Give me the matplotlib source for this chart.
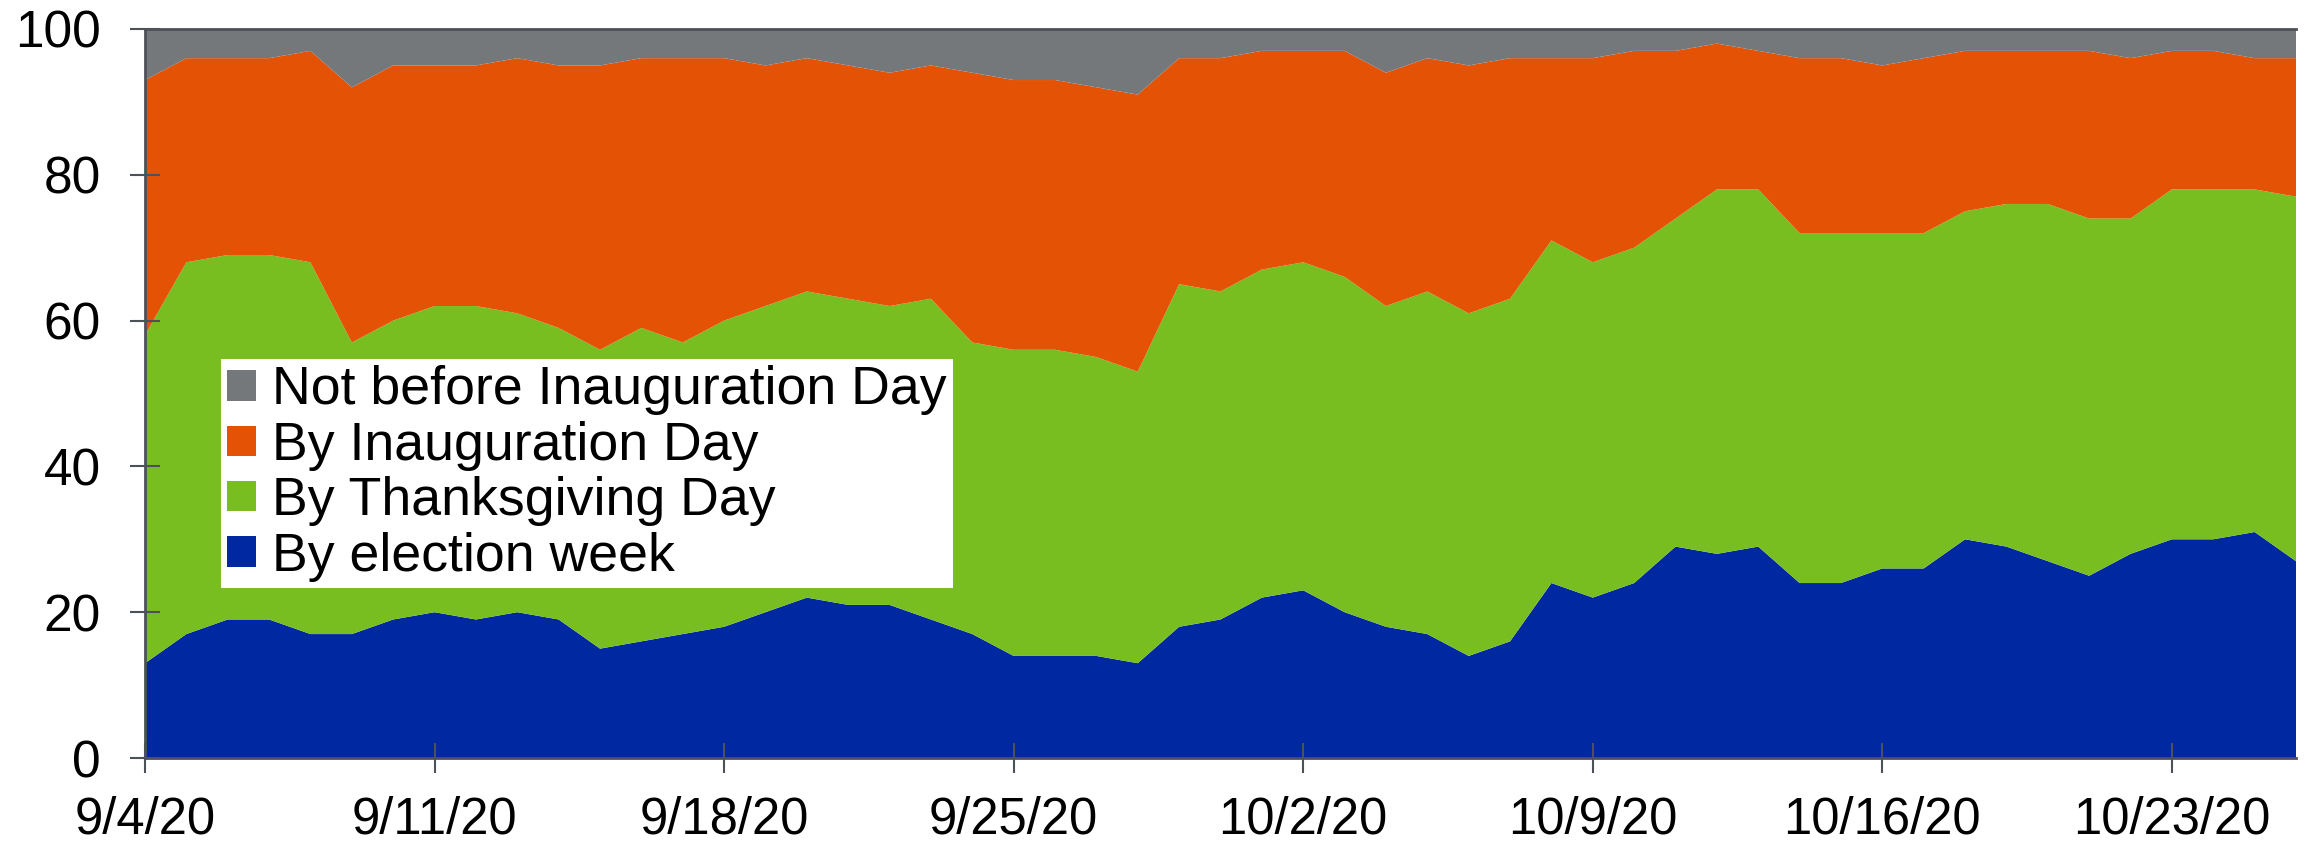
import matplotlib
matplotlib.use("Agg")
import matplotlib.pyplot as plt
import pandas as pd

plt.rcParams['font.family'] = ['Liberation Sans', 'DejaVu Sans']

start_date = "2020-09-04"
n_days = 53
dates = pd.date_range(start_date, periods=n_days, freq="D")

series_labels = ["By election week", "By Thanksgiving Day",
                 "By Inauguration Day", "Not before Inauguration Day"]

by_election_week = [13, 17, 19, 19, 17, 17, 19, 20, 19, 20, 19, 15, 16, 17,
                    18, 20, 22, 21, 21, 19, 17, 14, 14, 14, 13, 18, 19, 22,
                    23, 20, 18, 17, 14, 16, 24, 22, 24, 29, 28, 29, 24, 24,
                    26, 26, 30, 29, 27, 25, 28, 30, 30, 31, 27]
by_thanksgiving = [45, 51, 50, 50, 51, 40, 41, 42, 43, 41, 40, 41, 43, 40,
                   42, 42, 42, 42, 41, 44, 40, 42, 42, 41, 40, 47, 45, 45,
                   45, 46, 44, 47, 47, 47, 47, 46, 46, 45, 50, 49, 48, 48,
                   46, 46, 45, 47, 49, 49, 46, 48, 48, 47, 50]
by_inauguration = [35, 28, 27, 27, 29, 35, 35, 33, 33, 35, 36, 39, 37, 39,
                   36, 33, 32, 32, 32, 32, 37, 37, 37, 37, 38, 31, 32, 30,
                   29, 31, 32, 32, 34, 33, 25, 28, 27, 23, 20, 19, 24, 24,
                   23, 24, 22, 21, 21, 23, 22, 19, 19, 18, 19]
not_before_inauguration = [7, 4, 4, 4, 3, 8, 5, 5, 5, 4, 5, 5, 4, 4,
                           4, 5, 4, 5, 6, 5, 6, 7, 7, 8, 9, 4, 4, 3,
                           3, 3, 6, 4, 5, 4, 4, 4, 3, 3, 2, 3, 4, 4,
                           5, 4, 3, 3, 3, 3, 4, 3, 3, 4, 4]

colors = ["#0029A1", "#78BE21", "#E35205", "#75787B"]

y_ticks = [0, 20, 40, 60, 80, 100]
x_tick_dates = pd.date_range(start_date, periods=8, freq="7D")

W, H = 2310, 846
fig = plt.figure(figsize=(W / 100, H / 100), dpi=100)
left, right, top, bottom = 145, 2296, 29, 758
ax = fig.add_axes([left / W, 1 - bottom / H, (right - left) / W, (bottom - top) / H])

polys = ax.stackplot(dates, by_election_week, by_thanksgiving, by_inauguration,
                     not_before_inauguration, colors=colors, labels=series_labels,
                     linewidth=0)

ax.set_xlim(dates[0], dates[-1])
ax.set_ylim(0, 100)
ax.set_yticks(y_ticks)
ax.set_xticks(x_tick_dates)
ax.set_xticklabels([f"{d.month}/{d.day}/{d.year % 100}" for d in x_tick_dates])

spine_color = "#4D5259"
for s in ["left", "bottom", "top"]:
    ax.spines[s].set_color(spine_color)
    ax.spines[s].set_linewidth(2.0)
ax.spines["right"].set_visible(False)

ax.tick_params(axis="both", direction="inout", length=22, width=1.5,
               color=spine_color, labelcolor="black")
ax.tick_params(axis="y", labelsize=37, pad=21)
ax.tick_params(axis="x", labelsize=36.5, pad=16)

handles = polys[::-1]
labels = series_labels[::-1]
leg = ax.legend(handles, labels, loc="upper left", bbox_to_anchor=(0.0353, 0.5473),
                borderaxespad=0, fontsize=38.6, frameon=True, fancybox=False,
                framealpha=1, facecolor="white", edgecolor="none",
                handlelength=0.53, handleheight=0.5, handletextpad=0.3,
                labelspacing=0.1, borderpad=0.12)

fig.savefig("out.png", dpi=100)
